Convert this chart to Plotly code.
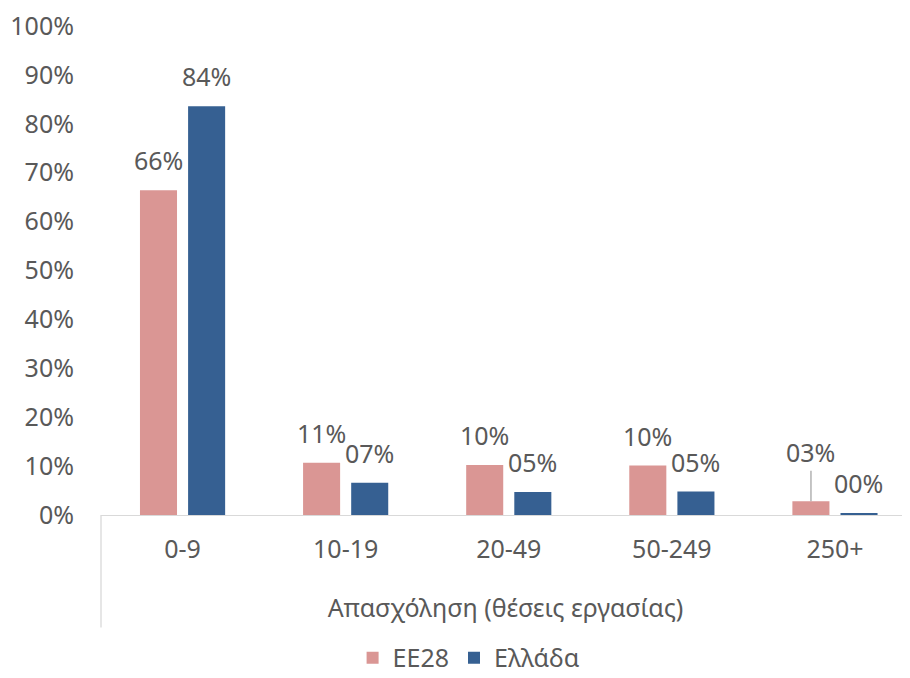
import plotly.graph_objects as go

# μερίδια επιχειρήσεων ανά κλάση απασχόλησης
categories = ["0-9", "10-19", "20-49", "50-249", "250+"]
ee28 = [0.664, 0.107, 0.102, 0.101, 0.028]
greece = [0.836, 0.066, 0.047, 0.048, 0.004]
series_names = ["EE28", "Ελλάδα"]
colors = ["#DA9694", "#366092"]

FONT = "Noto Sans"
GREY = "#595959"
FS = 25

fig = go.Figure()
for name, vals, col in zip(series_names, [ee28, greece], colors):
    fig.add_trace(go.Bar(x=categories, y=vals, name=name, marker_color=col,
                         marker_line_width=0))

# ετικέτες δεδομένων (μορφή 00%)
for k, vals in enumerate([ee28, greece]):
    shift = -24 if k == 0 else 24
    for i, (c, v) in enumerate(zip(categories, vals)):
        txt = f"{round(v * 100):02d}%"
        if k == 0 and c == "250+":
            # ετικέτα με γραμμή οδηγό
            fig.add_annotation(x=c, y=v, xshift=shift, text=txt, showarrow=True,
                               ax=0, ay=-49, arrowhead=0, arrowwidth=1.3,
                               arrowcolor="#A6A6A6", standoff=0,
                               font=dict(family=FONT, size=FS, color=GREY))
        else:
            fig.add_annotation(x=c, y=v, xshift=shift, yshift=30, text=txt,
                               showarrow=False,
                               font=dict(family=FONT, size=FS, color=GREY))

# κάθετη γραμμή αριστερά κάτω από τον άξονα (όπως στο Excel)
fig.add_shape(type="line", xref="paper", yref="paper", x0=0, x1=0, y0=0, y1=-0.23,
              line=dict(color="#D9D9D9", width=1.3))

# η σελίδα έχει περιθώριο 8px, γι' αυτό 902x670
fig.update_layout(
    width=902, height=670,
    margin=dict(l=93, r=0, t=18, b=163, autoexpand=False),
    paper_bgcolor="white", plot_bgcolor="white",
    font=dict(family=FONT, size=FS, color=GREY),
    barmode="group", bargap=0.41, bargroupgap=0.23,
    showlegend=True,
    legend=dict(orientation="h", x=0.455, xanchor="center", yref="container",
                y=0.03, yanchor="middle",
                font=dict(family=FONT, size=FS, color=GREY), itemwidth=30,
                traceorder="normal"),
    xaxis=dict(range=[-0.5, 4.46], showline=True, linecolor="#D9D9D9", linewidth=1.3,
               ticks="", showgrid=False, ticklabelstandoff=12, automargin=False,
               tickfont=dict(family=FONT, size=FS, color=GREY),
               title=dict(text="Απασχόληση (θέσεις εργασίας)", standoff=35,
                          font=dict(family=FONT, size=FS, color=GREY))),
    yaxis=dict(range=[0, 1], dtick=0.1, tickformat=".0%", showgrid=False,
               zeroline=False, showline=False, ticks="", ticklabelstandoff=26,
               automargin=False, ticklabeloverflow="allow",
               tickfont=dict(family=FONT, size=FS, color=GREY)),
)

fig.write_html("out.html")
